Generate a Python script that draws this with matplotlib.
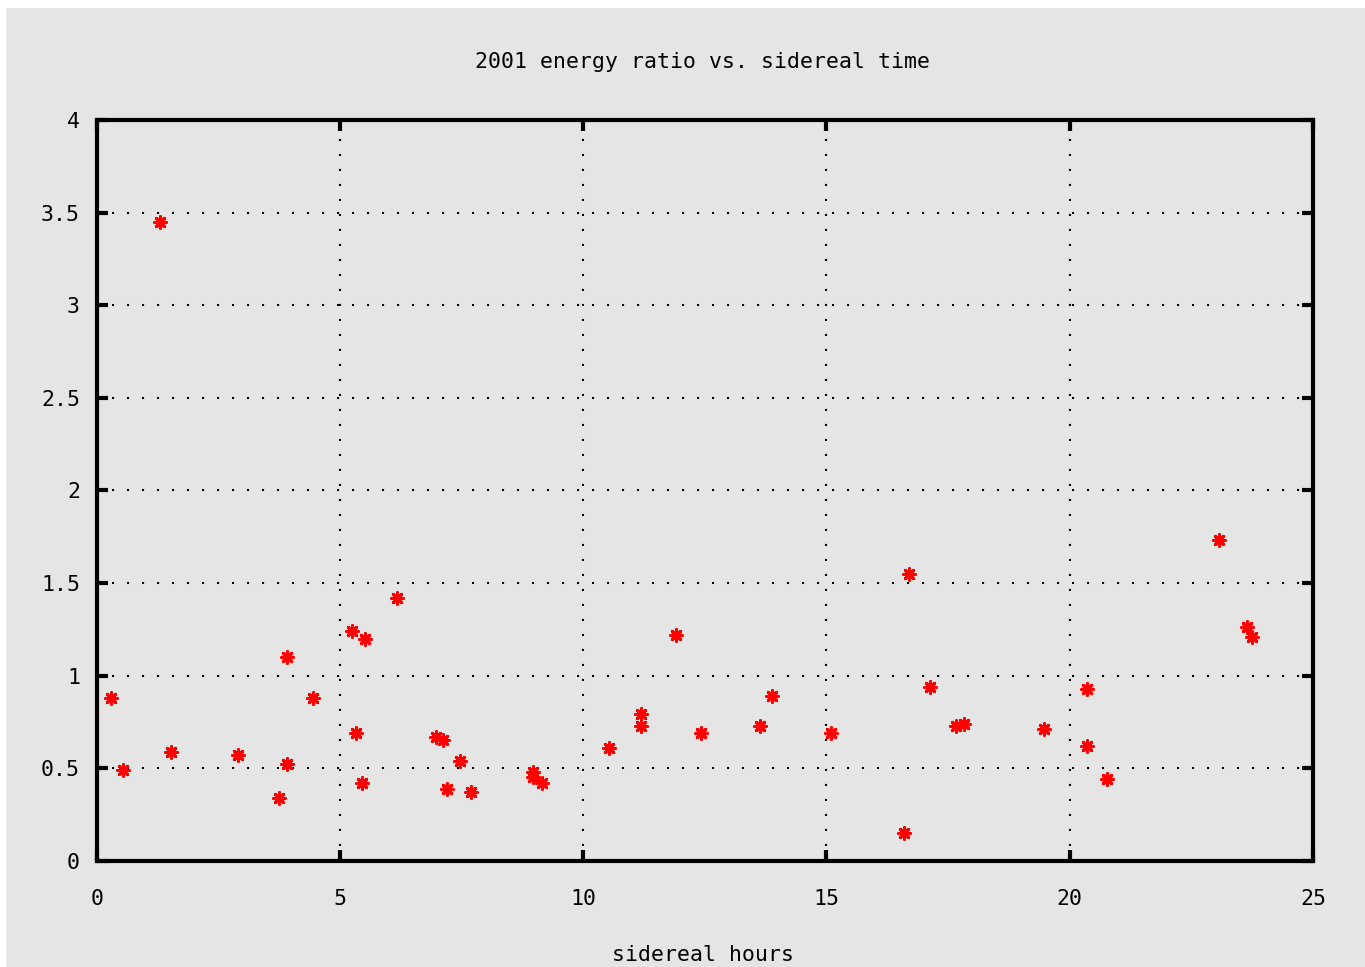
import matplotlib
matplotlib.use("Agg")
import matplotlib.pyplot as plt
from matplotlib.patches import Rectangle

# sidereal hours vs energy ratio
hours = [0.29, 0.55, 1.30, 1.53, 2.90, 3.74, 3.92, 3.92, 4.45, 5.25,
         5.51, 5.33, 5.46, 6.18, 6.97, 7.11, 7.46, 7.19, 7.69, 8.97,
         8.97, 9.15, 10.52, 11.19, 11.19, 11.90, 12.43, 13.63, 13.89, 15.09,
         16.59, 16.69, 17.13, 17.67, 17.83, 19.47, 20.36, 20.36, 20.76, 23.06,
         23.64, 23.74]
ratio = [0.88, 0.49, 3.45, 0.59, 0.57, 0.34, 1.10, 0.52, 0.88, 1.24,
         1.20, 0.69, 0.42, 1.42, 0.67, 0.65, 0.54, 0.39, 0.37, 0.48,
         0.45, 0.42, 0.61, 0.79, 0.73, 1.22, 0.69, 0.73, 0.89, 0.69,
         0.15, 1.55, 0.94, 0.73, 0.74, 0.71, 0.93, 0.62, 0.44, 1.73,
         1.26, 1.21]

xticks = [0, 5, 10, 15, 20, 25]
yticks = [0, 0.5, 1, 1.5, 2, 2.5, 3, 3.5, 4]
ytick_labels = ["0", "0.5", "1", "1.5", "2", "2.5", "3", "3.5", "4"]

plt.rcParams['font.family'] = ['DejaVu Sans Mono']

W, H = 1365, 967
fig = plt.figure(figsize=(W / 100, H / 100), dpi=100, facecolor='white')
fig.patches.append(Rectangle((6 / W, 0), 1 - 6 / W, 1 - 8 / H,
                             transform=fig.transFigure, facecolor='#e5e5e5',
                             edgecolor='none', zorder=-10))

ax = fig.add_axes([96.7 / W, 1 - 860.8 / H, (1313 - 96.7) / W, (860.8 - 120) / H])
ax.set_facecolor('#e5e5e5')

ax.scatter(hours, ratio, marker=(8, 2, 0), s=70, color='red', linewidths=2.2, zorder=3)

ax.set_xlim(0, 25)
ax.set_ylim(0, 4)
ax.set_xticks(xticks)
ax.set_yticks(yticks)
ax.set_yticklabels(ytick_labels)

ax.grid(True, color='black', linestyle=(0, (1, 6.2)), linewidth=1.5)
for s in ax.spines.values():
    s.set_linewidth(3)
ax.tick_params(direction='in', length=8, width=3, top=True, right=True,
               labelsize=15.5, colors='black')
ax.tick_params(axis='x', pad=20)
ax.tick_params(axis='y', pad=12)

fig.text(703 / W, 1 - 62 / H, '2001 energy ratio vs. sidereal time',
         fontsize=15.5, ha='center', va='center')
fig.text(703 / W, 1 - 955 / H, 'sidereal hours',
         fontsize=15.5, ha='center', va='center')

fig.savefig('out.png', dpi=100, facecolor=fig.get_facecolor())
